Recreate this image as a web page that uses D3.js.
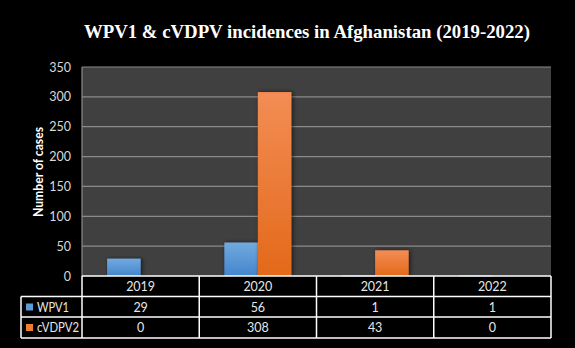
<!DOCTYPE html>
<html><head><meta charset="utf-8">
<script src="https://cdn.jsdelivr.net/npm/d3@7"></script>
<style>html,body{margin:0;padding:0;background:#000;}svg{display:block;}</style>
</head><body>
<svg id="c" width="575" height="348"></svg>
<script>
const categories = ["2019", "2020", "2021", "2022"];
const seriesNames = ["WPV1", "cVDPV2"];
const wpv1 = [29, 56, 1, 1];
const cvdpv2 = [0, 308, 43, 0];
const yTicks = [0, 50, 100, 150, 200, 250, 300, 350];
const seriesValues = [wpv1, cvdpv2];

const svg = d3.select("#c");
const W = 575, H = 348;
const m = {left: 82, right: 551, top: 67, bottom: 276};
const font = "Lato, 'Open Sans', sans-serif";

svg.append("rect").attr("width", W).attr("height", H).attr("fill", "#000");

const defs = svg.append("defs");
const grads = [["gBlue", "#72aadf", "#4385cc"], ["gOrange", "#f38d55", "#e3691a"]];
grads.forEach(([id, c1, c2]) => {
  const g = defs.append("linearGradient").attr("id", id).attr("x1", 0).attr("y1", 0).attr("x2", 0).attr("y2", 1);
  g.append("stop").attr("offset", "0%").attr("stop-color", c1);
  g.append("stop").attr("offset", "100%").attr("stop-color", c2);
});
const f = defs.append("filter").attr("id", "sh").attr("x", "-30%").attr("y", "-10%").attr("width", "160%").attr("height", "120%");
f.append("feDropShadow").attr("dx", 1.5).attr("dy", 0).attr("stdDeviation", 2).attr("flood-color", "#000").attr("flood-opacity", 0.6);

// Title
svg.append("text").attr("x", 307).attr("y", 38).attr("text-anchor", "middle")
  .attr("font-family", "'Liberation Serif', 'Times New Roman', serif").attr("font-weight", "bold")
  .attr("font-size", 19).attr("fill", "#fff").attr("textLength", 446).attr("lengthAdjust", "spacingAndGlyphs")
  .text("WPV1 & cVDPV incidences in Afghanistan (2019-2022)");

const x0 = d3.scaleBand().domain(categories).range([m.left, m.right]).padding(0);
const x1 = d3.scaleBand().domain(seriesNames).range([0, x0.bandwidth()]).paddingInner(0).paddingOuter(0.75);
const y = d3.scaleLinear().domain([0, 350]).range([m.bottom, m.top]);

// plot background
svg.append("rect").attr("x", m.left).attr("y", m.top).attr("width", m.right - m.left).attr("height", m.bottom - m.top).attr("fill", "#404040");

// grid
svg.append("g").selectAll("line").data(yTicks.filter(t => t > 0)).join("line")
  .attr("x1", m.left).attr("x2", m.right).attr("y1", d => y(d)).attr("y2", d => y(d))
  .attr("stroke", "#8a8a8a").attr("stroke-width", 1.2);
svg.append("line").attr("x1", m.left).attr("x2", m.left).attr("y1", m.top).attr("y2", m.bottom).attr("stroke", "#8a8a8a").attr("stroke-width", 1.2);

// y axis
const yAxis = d3.axisLeft(y).tickValues(yTicks).tickSize(0).tickPadding(11);
const ya = svg.append("g").attr("transform", `translate(${m.left},0)`).call(yAxis);
ya.select(".domain").remove();
ya.selectAll("text").attr("font-family", font).attr("font-size", 12.5).attr("fill", "#d9d9d9");

svg.append("text").attr("transform", `translate(43,172) rotate(-90)`).attr("text-anchor", "middle")
  .attr("font-family", font).attr("font-weight", "bold").attr("font-size", 12.5).attr("fill", "#fff")
  .attr("textLength", 90).attr("lengthAdjust", "spacingAndGlyphs")
  .text("Number of cases");

// bars
const gradIds = ["gBlue", "gOrange"];
const bars = svg.append("g");
categories.forEach((c, i) => {
  seriesNames.forEach((s, j) => {
    const v = seriesValues[j][i];
    if (v <= 0) return;
    bars.append("rect").attr("x", x0(c) + x1(s)).attr("width", x1.bandwidth())
      .attr("y", y(v)).attr("height", Math.max(1, y(0) - y(v)))
      .attr("fill", `url(#${gradIds[j]})`).attr("filter", "url(#sh)");
  });
});

// data table
const rowH = [20.5, 20.5, 21];
const tTop = m.bottom, legLeft = 21;
const rowY = [tTop, tTop + rowH[0], tTop + rowH[0] + rowH[1], tTop + rowH[0] + rowH[1] + rowH[2]];
const tg = svg.append("g");
function line(x1_, y1_, x2_, y2_) {
  tg.append("line").attr("x1", x1_).attr("y1", y1_).attr("x2", x2_).attr("y2", y2_).attr("stroke", "#fff").attr("stroke-width", 1.5);
}
line(m.left, rowY[0], m.right, rowY[0]);
line(legLeft, rowY[1], m.right, rowY[1]);
line(legLeft, rowY[2], m.right, rowY[2]);
line(legLeft, rowY[3], m.right, rowY[3]);
line(legLeft, rowY[1], legLeft, rowY[3]);
line(m.left, rowY[0], m.left, rowY[3]);
categories.forEach(c => line(x0(c) + x0.bandwidth(), rowY[0], x0(c) + x0.bandwidth(), rowY[3]));

const txt = (x, yy, t, anchor) => tg.append("text").attr("x", x).attr("y", yy).attr("text-anchor", anchor)
  .attr("font-family", font).attr("font-size", 12.5).attr("fill", "#e6e6e6").text(t);
categories.forEach(c => txt(x0(c) + x0.bandwidth() / 2, rowY[0] + 14.5, c, "middle"));
const keyCols = ["#5b9bd5", "#ed7d31"];
const legendLen = [32, 42];
seriesNames.forEach((s, j) => {
  const ry = rowY[j + 1];
  tg.append("rect").attr("x", 26).attr("y", ry + 7).attr("width", 7).attr("height", 7).attr("fill", keyCols[j]);
  txt(37, ry + 15, s, "start").attr("textLength", legendLen[j]).attr("lengthAdjust", "spacingAndGlyphs");
  categories.forEach((c, i) => txt(x0(c) + x0.bandwidth() / 2, ry + 15, String(seriesValues[j][i]), "middle"));
});
</script>
</body></html>
